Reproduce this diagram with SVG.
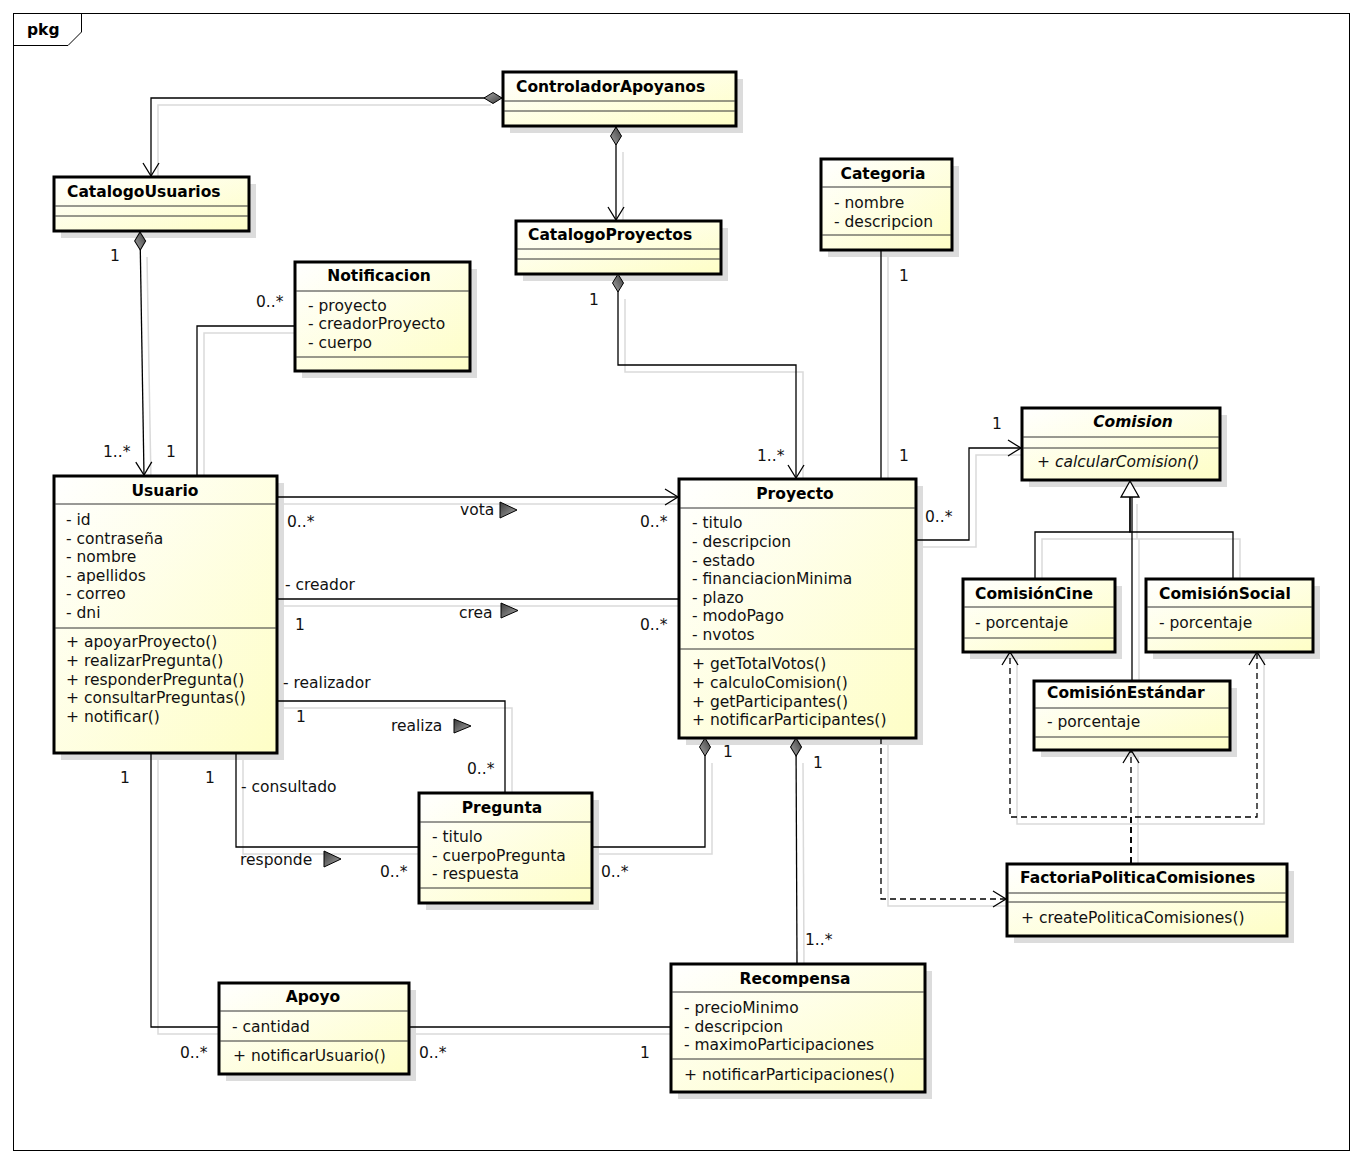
<svg xmlns="http://www.w3.org/2000/svg" width="1362" height="1164" viewBox="0 0 1362 1164">
<style>
.t{font-family:"DejaVu Sans","Liberation Sans",sans-serif;font-size:15.5px;fill:#111}
.b{font-weight:bold;fill:#000}
.i{font-style:italic}
.mid{text-anchor:middle}
.box{fill:url(#nodefill);stroke:#000;stroke-width:3}
.shd{fill:#dcdcdc;stroke:none}
.div{stroke:#333;stroke-width:1}
.ln{fill:none;stroke:#000;stroke-width:1.3}
.dash{stroke-dasharray:6 4}
.sl{fill:none;stroke:#dadada;stroke-width:1.5}
</style>
<defs>
<linearGradient id="nodefill" x1="0" y1="0" x2="1" y2="1">
<stop offset="0" stop-color="#ffffff"/>
<stop offset="1" stop-color="#fefec6"/>
</linearGradient>
<linearGradient id="darkfill" x1="0" y1="0" x2="1" y2="1">
<stop offset="0" stop-color="#3a3a3a"/>
<stop offset="1" stop-color="#a8a8a8"/>
</linearGradient>
<marker id="arr" markerUnits="userSpaceOnUse" orient="auto" overflow="visible" refX="0" refY="0" markerWidth="16" markerHeight="18">
<path d="M-13,-8 L0,0 L-13,8" fill="none" stroke="#000" stroke-width="1.3"/>
</marker>
<marker id="dia" markerUnits="userSpaceOnUse" orient="auto" overflow="visible" refX="0" refY="0" markerWidth="20" markerHeight="12">
<path d="M0,0 L9,-5.5 L18,0 L9,5.5 Z" fill="url(#darkfill)" stroke="#000" stroke-width="1"/>
</marker>
</defs>
<rect x="0" y="0" width="1362" height="1164" fill="#fff"/>
<g id="frame">
<rect x="13.5" y="13.5" width="1336" height="1137" fill="#fff" stroke="#000" stroke-width="1"/>
<path d="M13.5,45.5 L68,45.5 L81.5,32 L81.5,13.5" fill="none" stroke="#000" stroke-width="1"/>
<text class="t b" x="27" y="35">pkg</text>
</g>
<g id="connector-shadows" transform="translate(7,7)">
<path class="sl" d="M484,98 L151,98 L151,176"/>
<path class="sl" d="M616,145 L616,220"/>
<path class="sl" d="M140,250 L144,475"/>
<path class="sl" d="M618,292 L618,365 L796,365 L796,478"/>
<path class="sl" d="M294,326 L197,326 L197,475"/>
<path class="sl" d="M881,250 L881,478"/>
<path class="sl" d="M916,540 L969,540 L969,448 L1021,448"/>
<path class="sl" d="M277,497 L678,497"/>
<path class="sl" d="M277,599 L678,599"/>
<path class="sl" d="M277,701 L505,701 L505,792"/>
<path class="sl" d="M236,753 L236,847 L418,847"/>
<path class="sl" d="M705,756 L705,847 L592,847"/>
<path class="sl" d="M796,756 L797,963"/>
<path class="sl" d="M151,753 L151,1027 L218,1027"/>
<path class="sl" d="M409,1027 L670,1027"/>
<path class="sl" d="M1035,578 L1035,532 L1233,532 L1233,578 M1130,497 L1130,532 M1132,532 L1132,681"/>
<path class="sl" d="M1131,863 L1131,817 L1010,817 L1010,652 M1131,817 L1257,817 L1257,652 M1131,817 L1131,750"/>
<path class="sl" d="M881,738 L881,899 L1006,899"/>
</g>
<g id="ControladorApoyanos">
<rect class="shd" x="510" y="79" width="233" height="54"/>
<rect class="box" x="503" y="72" width="233" height="54"/>
<line class="div" x1="504" y1="101" x2="735" y2="101"/>
<line class="div" x1="504" y1="111" x2="735" y2="111"/>
<text class="t b" x="516" y="92">ControladorApoyanos</text>
</g>
<g id="CatalogoUsuarios">
<rect class="shd" x="61" y="184" width="195" height="54"/>
<rect class="box" x="54" y="177" width="195" height="54"/>
<line class="div" x1="55" y1="206" x2="248" y2="206"/>
<line class="div" x1="55" y1="216" x2="248" y2="216"/>
<text class="t b" x="67" y="197">CatalogoUsuarios</text>
</g>
<g id="CatalogoProyectos">
<rect class="shd" x="523" y="228" width="205" height="53"/>
<rect class="box" x="516" y="221" width="205" height="53"/>
<line class="div" x1="517" y1="249" x2="720" y2="249"/>
<line class="div" x1="517" y1="259" x2="720" y2="259"/>
<text class="t b" x="528" y="240">CatalogoProyectos</text>
</g>
<g id="Categoria">
<rect class="shd" x="828" y="166" width="131" height="91"/>
<rect class="box" x="821" y="159" width="131" height="91"/>
<line class="div" x1="822" y1="187" x2="951" y2="187"/>
<line class="div" x1="822" y1="235" x2="951" y2="235"/>
<text class="t b mid" x="883" y="179">Categoria</text>
<text class="t" x="834" y="208">- nombre</text>
<text class="t" x="834" y="227">- descripcion</text>
</g>
<g id="Notificacion">
<rect class="shd" x="302" y="269" width="175" height="109"/>
<rect class="box" x="295" y="262" width="175" height="109"/>
<line class="div" x1="296" y1="291" x2="469" y2="291"/>
<line class="div" x1="296" y1="357" x2="469" y2="357"/>
<text class="t b mid" x="379" y="281">Notificacion</text>
<text class="t" x="308" y="311">- proyecto</text>
<text class="t" x="308" y="329">- creadorProyecto</text>
<text class="t" x="308" y="348">- cuerpo</text>
</g>
<g id="Usuario">
<rect class="shd" x="61" y="483" width="223" height="277"/>
<rect class="box" x="54" y="476" width="223" height="277"/>
<line class="div" x1="55" y1="504" x2="276" y2="504"/>
<line class="div" x1="55" y1="628" x2="276" y2="628"/>
<text class="t b mid" x="165" y="496">Usuario</text>
<text class="t" x="66" y="525">- id</text>
<text class="t" x="66" y="544">- contraseña</text>
<text class="t" x="66" y="562">- nombre</text>
<text class="t" x="66" y="581">- apellidos</text>
<text class="t" x="66" y="599">- correo</text>
<text class="t" x="66" y="618">- dni</text>
<text class="t" x="66" y="647">+ apoyarProyecto()</text>
<text class="t" x="66" y="666">+ realizarPregunta()</text>
<text class="t" x="66" y="685">+ responderPregunta()</text>
<text class="t" x="66" y="703">+ consultarPreguntas()</text>
<text class="t" x="66" y="722">+ notificar()</text>
</g>
<g id="Proyecto">
<rect class="shd" x="686" y="486" width="237" height="259"/>
<rect class="box" x="679" y="479" width="237" height="259"/>
<line class="div" x1="680" y1="508" x2="915" y2="508"/>
<line class="div" x1="680" y1="649" x2="915" y2="649"/>
<text class="t b mid" x="795" y="499">Proyecto</text>
<text class="t" x="692" y="528">- titulo</text>
<text class="t" x="692" y="547">- descripcion</text>
<text class="t" x="692" y="566">- estado</text>
<text class="t" x="692" y="584">- financiacionMinima</text>
<text class="t" x="692" y="603">- plazo</text>
<text class="t" x="692" y="621">- modoPago</text>
<text class="t" x="692" y="640">- nvotos</text>
<text class="t" x="692" y="669">+ getTotalVotos()</text>
<text class="t" x="692" y="688">+ calculoComision()</text>
<text class="t" x="692" y="707">+ getParticipantes()</text>
<text class="t" x="692" y="725">+ notificarParticipantes()</text>
</g>
<g id="Comision">
<rect class="shd" x="1029" y="415" width="198" height="72"/>
<rect class="box" x="1022" y="408" width="198" height="72"/>
<line class="div" x1="1023" y1="437" x2="1219" y2="437"/>
<line class="div" x1="1023" y1="448" x2="1219" y2="448"/>
<text class="t b i mid" x="1133" y="427">Comision</text>
<text class="t i" x="1037" y="467">+ calcularComision()</text>
</g>
<g id="ComisionCine">
<rect class="shd" x="970" y="586" width="152" height="73"/>
<rect class="box" x="963" y="579" width="152" height="73"/>
<line class="div" x1="964" y1="607" x2="1114" y2="607"/>
<line class="div" x1="964" y1="638" x2="1114" y2="638"/>
<text class="t b" x="975" y="599">ComisiónCine</text>
<text class="t" x="975" y="628">- porcentaje</text>
</g>
<g id="ComisionSocial">
<rect class="shd" x="1153" y="586" width="167" height="73"/>
<rect class="box" x="1146" y="579" width="167" height="73"/>
<line class="div" x1="1147" y1="607" x2="1312" y2="607"/>
<line class="div" x1="1147" y1="638" x2="1312" y2="638"/>
<text class="t b" x="1159" y="599">ComisiónSocial</text>
<text class="t" x="1159" y="628">- porcentaje</text>
</g>
<g id="ComisionEstandar">
<rect class="shd" x="1041" y="688" width="196" height="69"/>
<rect class="box" x="1034" y="681" width="196" height="69"/>
<line class="div" x1="1035" y1="708" x2="1229" y2="708"/>
<line class="div" x1="1035" y1="737" x2="1229" y2="737"/>
<text class="t b" x="1047" y="698">ComisiónEstándar</text>
<text class="t" x="1047" y="727">- porcentaje</text>
</g>
<g id="FactoriaPoliticaComisiones">
<rect class="shd" x="1014" y="871" width="280" height="72"/>
<rect class="box" x="1007" y="864" width="280" height="72"/>
<line class="div" x1="1008" y1="893" x2="1286" y2="893"/>
<line class="div" x1="1008" y1="902" x2="1286" y2="902"/>
<text class="t b" x="1020" y="883">FactoriaPoliticaComisiones</text>
<text class="t" x="1021" y="923">+ createPoliticaComisiones()</text>
</g>
<g id="Pregunta">
<rect class="shd" x="426" y="800" width="173" height="110"/>
<rect class="box" x="419" y="793" width="173" height="110"/>
<line class="div" x1="420" y1="822" x2="591" y2="822"/>
<line class="div" x1="420" y1="888" x2="591" y2="888"/>
<text class="t b mid" x="502" y="813">Pregunta</text>
<text class="t" x="432" y="842">- titulo</text>
<text class="t" x="432" y="861">- cuerpoPregunta</text>
<text class="t" x="432" y="879">- respuesta</text>
</g>
<g id="Apoyo">
<rect class="shd" x="226" y="990" width="190" height="91"/>
<rect class="box" x="219" y="983" width="190" height="91"/>
<line class="div" x1="220" y1="1011" x2="408" y2="1011"/>
<line class="div" x1="220" y1="1041" x2="408" y2="1041"/>
<text class="t b mid" x="313" y="1002">Apoyo</text>
<text class="t" x="232" y="1032">- cantidad</text>
<text class="t" x="233" y="1061">+ notificarUsuario()</text>
</g>
<g id="Recompensa">
<rect class="shd" x="678" y="971" width="254" height="128"/>
<rect class="box" x="671" y="964" width="254" height="128"/>
<line class="div" x1="672" y1="992" x2="924" y2="992"/>
<line class="div" x1="672" y1="1059" x2="924" y2="1059"/>
<text class="t b mid" x="795" y="984">Recompensa</text>
<text class="t" x="684" y="1013">- precioMinimo</text>
<text class="t" x="684" y="1032">- descripcion</text>
<text class="t" x="684" y="1050">- maximoParticipaciones</text>
<text class="t" x="684" y="1080">+ notificarParticipaciones()</text>
</g>
<g id="connectors">
<path class="ln" d="M502,98 L151,98 L151,176" marker-start="url(#dia)" marker-end="url(#arr)"/>
<path class="ln" d="M616,127 L616,220" marker-start="url(#dia)" marker-end="url(#arr)"/>
<path class="ln" d="M140,232 L144,475" marker-start="url(#dia)" marker-end="url(#arr)"/>
<path class="ln" d="M618,274 L618,365 L796,365 L796,478" marker-start="url(#dia)" marker-end="url(#arr)"/>
<path class="ln" d="M294,326 L197,326 L197,475"/>
<path class="ln" d="M881,250 L881,478"/>
<path class="ln" d="M916,540 L969,540 L969,448 L1021,448" marker-end="url(#arr)"/>
<path class="ln" d="M277,497 L678,497" marker-end="url(#arr)"/>
<path class="ln" d="M277,599 L678,599"/>
<path class="ln" d="M277,701 L505,701 L505,792"/>
<path class="ln" d="M236,753 L236,847 L418,847"/>
<path class="ln" d="M705,738 L705,847 L592,847" marker-start="url(#dia)"/>
<path class="ln" d="M796,738 L797,963" marker-start="url(#dia)"/>
<path class="ln" d="M151,753 L151,1027 L218,1027"/>
<path class="ln" d="M409,1027 L670,1027"/>
<path class="ln" d="M1035,578 L1035,532 L1130,532 L1130,497"/>
<path class="ln" d="M1233,578 L1233,532 L1130,532 L1130,497"/>
<path class="ln" d="M1132,681 L1132,497"/>
<polygon points="1130,481 1121,497 1139,497" fill="#fff" stroke="#000" stroke-width="1.3"/>
<path class="ln dash" d="M1131,863 L1131,817 L1010,817 L1010,652" marker-end="url(#arr)"/>
<path class="ln dash" d="M1131,863 L1131,817 L1257,817 L1257,652" marker-end="url(#arr)"/>
<path class="ln dash" d="M1131,863 L1131,750" marker-end="url(#arr)"/>
<path class="ln dash" d="M881,738 L881,899 L1006,899" marker-end="url(#arr)"/>
<polygon points="500,502 517,510 500,518" fill="url(#darkfill)" stroke="#000" stroke-width="1"/>
<polygon points="501,603 518,610.5 501,618" fill="url(#darkfill)" stroke="#000" stroke-width="1"/>
<polygon points="454,719 471,726 454,733" fill="url(#darkfill)" stroke="#000" stroke-width="1"/>
<polygon points="324,851 341,859 324,867" fill="url(#darkfill)" stroke="#000" stroke-width="1"/>
<text class="t" x="110" y="261">1</text>
<text class="t" x="103" y="457">1..*</text>
<text class="t" x="256" y="307">0..*</text>
<text class="t" x="166" y="457">1</text>
<text class="t" x="589" y="305">1</text>
<text class="t" x="757" y="461">1..*</text>
<text class="t" x="899" y="281">1</text>
<text class="t" x="899" y="461">1</text>
<text class="t" x="992" y="429">1</text>
<text class="t" x="925" y="522">0..*</text>
<text class="t" x="287" y="527">0..*</text>
<text class="t" x="640" y="527">0..*</text>
<text class="t" x="460" y="515">vota</text>
<text class="t" x="285" y="590">- creador</text>
<text class="t" x="295" y="630">1</text>
<text class="t" x="459" y="618">crea</text>
<text class="t" x="640" y="630">0..*</text>
<text class="t" x="283" y="688">- realizador</text>
<text class="t" x="296" y="722">1</text>
<text class="t" x="391" y="731">realiza</text>
<text class="t" x="467" y="774">0..*</text>
<text class="t" x="205" y="783">1</text>
<text class="t" x="241" y="792">- consultado</text>
<text class="t" x="240" y="865">responde</text>
<text class="t" x="380" y="877">0..*</text>
<text class="t" x="723" y="757">1</text>
<text class="t" x="601" y="877">0..*</text>
<text class="t" x="813" y="768">1</text>
<text class="t" x="805" y="945">1..*</text>
<text class="t" x="120" y="783">1</text>
<text class="t" x="180" y="1058">0..*</text>
<text class="t" x="419" y="1058">0..*</text>
<text class="t" x="640" y="1058">1</text>
</g>
</svg>
